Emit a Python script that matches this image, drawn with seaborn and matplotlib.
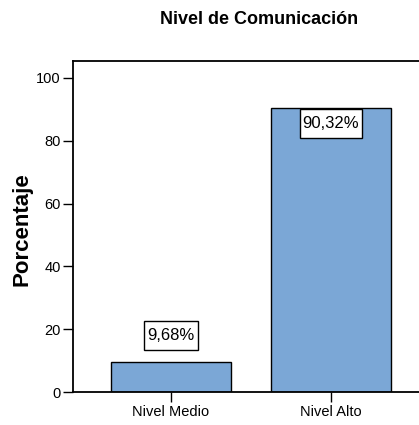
import matplotlib
matplotlib.use("Agg")
import matplotlib.pyplot as plt
from matplotlib.path import Path
import seaborn as sns
import pandas as pd

categories = ["Nivel Medio", "Nivel Alto"]
values = [9.68, 90.32]
labels = ["9,68%", "90,32%"]
yticks = [0, 20, 40, 60, 80, 100]

sns.set_style("white")
plt.rcParams["font.family"] = ["Liberation Sans", "DejaVu Sans"]
plt.rcParams["text.color"] = "black"
plt.rcParams["xtick.color"] = "black"
plt.rcParams["ytick.color"] = "black"

df = pd.DataFrame({"cat": categories, "val": values})

fig = plt.figure(figsize=(4.19, 4.25), dpi=100)
ax = fig.add_axes([73/419, 33/425, 1 - 73/419, (392-61)/425])

sns.barplot(data=df, x="cat", y="val", color="#7BA7D6", saturation=1,
            edgecolor="black", linewidth=1.0, width=0.75, ax=ax)

ax.set_ylim(0, 105.4)
ax.set_xlim(-0.6125, 1.55)
ax.set_yticks(yticks)
ax.set_yticklabels([str(t) for t in yticks], fontsize=10.5)
ax.set_xticks(range(len(categories)))
ax.set_xticklabels(categories, fontsize=10.5)
ax.tick_params(axis="both", which="major", direction="out", length=7.5, width=1.0,
               color="black", labelcolor="black", pad=1.5, bottom=True, left=True)
ax.set_xlabel("")
ax.set_ylabel("")

for side in ["left", "bottom", "top"]:
    ax.spines[side].set_visible(True)
    ax.spines[side].set_linewidth(1.3)
    ax.spines[side].set_color("black")
ax.spines["right"].set_visible(False)

PADX = 0.18
PADY = 0.42


def label_box(x0, y0, width, height, mutation_size):
    px = PADX * mutation_size
    py = PADY * mutation_size
    x0, y0 = x0 - px, y0 - py
    x1, y1 = x0 + width + 2 * px, y0 + height + 2 * py
    return Path([(x0, y0), (x1, y0), (x1, y1), (x0, y1), (x0, y0)], closed=True)


box = dict(boxstyle=label_box, facecolor="white", edgecolor="black", linewidth=1.0)
fs = 12
for i, (v, lab) in enumerate(zip(values, labels)):
    if v < 50:
        ax.annotate(lab, xy=(i, v), xytext=(0, 8.4 + PADY * fs), textcoords="offset points",
                    ha="center", va="bottom", fontsize=fs, bbox=box)
    else:
        ax.annotate(lab, xy=(i, v), xytext=(0, -PADY * fs - 0.5), textcoords="offset points",
                    ha="center", va="top", fontsize=fs, bbox=box)

fig.text(259/419, 1 - 20/425, "Nivel de Comunicación", ha="center", va="center",
         fontsize=13, fontweight="bold")
fig.text(22/419, 1 - 229/425, "Porcentaje", ha="center", va="center",
         rotation=90, fontsize=16, fontweight="bold")

fig.savefig("out.png", dpi=100)
